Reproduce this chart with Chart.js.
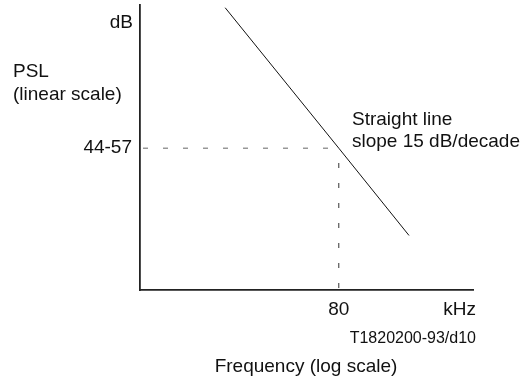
<!DOCTYPE html>
<html>
<head>
<meta charset="utf-8">
<script src="https://cdn.jsdelivr.net/npm/chart.js@4"></script>
<style>
  html, body { margin: 0; padding: 0; background: #fff; }
  #wrap { width: 523px; height: 382px; }
</style>
</head>
<body>
<div id="wrap"><canvas id="pslChart" width="523" height="382"></canvas></div>
<script>
// straight line, 15 dB/decade, through 80 kHz
const lineFreq = [16.4, 80, 213];
const linePsl = [60.3, 50, 43.6];

// dashed guides to the 80 kHz / 44-57 dB point
const hGuideFreq = [5, 80];
const hGuidePsl = [50, 50];
const vGuideFreq = [80, 80];     // drawn from the axis upward
const vGuidePsl = [39.6, 50];

const xTickValues = [80];
const xTickLabels = ["80"];
const yTickValues = [50];
const yTickLabels = ["44-57"];

const xMin = 5, xMax = 520;
const yMin = 39.6, yMax = 60.5;

const FONT = "'Liberation Sans', Arial, Helvetica, sans-serif";

// texts that are not ticks
const textPlugin = {
    id: "texts",
    afterDraw(chart) {
        const ctx = chart.ctx;
        ctx.save();
        ctx.fillStyle = "#111";
        ctx.textBaseline = "alphabetic";
        ctx.font = "19px " + FONT;

        ctx.textAlign = "right";
        ctx.fillText("dB", 133, 28);
        ctx.fillText("kHz", 476, 315);

        ctx.textAlign = "left";
        ctx.fillText("PSL", 13, 77);
        ctx.fillText("(linear scale)", 13, 100);
        ctx.fillText("Straight line", 352, 125);
        ctx.fillText("slope 15 dB/decade", 352, 147);

        ctx.textAlign = "center";
        ctx.fillText("Frequency (log scale)", 306, 372);

        ctx.textAlign = "right";
        ctx.font = "16px " + FONT;
        ctx.fillText("T1820200-93/d10", 476, 343);
        ctx.restore();
    }
};

function toPoints(xs, ys) {
    return xs.map((x, i) => ({ x: x, y: ys[i] }));
}

// no extra room around the axes for half-labels
function noPad(scale) {
    scale.paddingTop = 0;
    scale.paddingBottom = 0;
    scale.paddingLeft = 0;
    scale.paddingRight = 0;
}

const ctx = document.getElementById("pslChart").getContext("2d");
new Chart(ctx, {
    type: "line",
    data: {
        datasets: [{
            label: "PSL",
            data: toPoints(lineFreq, linePsl),
            borderColor: "#111",
            borderWidth: 1,
            pointRadius: 0,
            tension: 0,
            clip: false
        }, {
            label: "h guide",
            data: toPoints(hGuideFreq, hGuidePsl),
            borderColor: "#666",
            borderWidth: 1,
            borderDash: [5, 15],
            borderDashOffset: -3,
            pointRadius: 0,
            tension: 0
        }, {
            label: "v guide",
            data: toPoints(vGuideFreq, vGuidePsl),
            borderColor: "#333",
            borderWidth: 1,
            borderDash: [5, 15],
            borderDashOffset: -2,
            pointRadius: 0,
            tension: 0
        }]
    },
    options: {
        responsive: false,
        animation: false,
        layout: { padding: { top: 5, right: 50, bottom: 0, left: 0 } },
        plugins: {
            legend: { display: false },
            tooltip: { enabled: false }
        },
        scales: {
            x: {
                type: "logarithmic",
                min: xMin,
                max: xMax,
                grid: { display: false, drawTicks: false },
                border: { display: true, color: "#222", width: 1.8 },
                afterBuildTicks: (scale) => {
                    scale.ticks = xTickValues.map(v => ({ value: v }));
                },
                afterFit: (scale) => { scale.height = 92; noPad(scale); },
                ticks: {
                    padding: 8,
                    autoSkip: false,
                    maxRotation: 0,
                    color: "#111",
                    font: { family: FONT, size: 19 },
                    callback: (value) => {
                        const i = xTickValues.indexOf(value);
                        return i >= 0 ? xTickLabels[i] : "";
                    }
                }
            },
            y: {
                type: "linear",
                min: yMin,
                max: yMax,
                grid: { display: false, drawTicks: false },
                border: { display: true, color: "#222", width: 1.8 },
                afterBuildTicks: (scale) => {
                    scale.ticks = yTickValues.map(v => ({ value: v }));
                },
                afterFit: (scale) => { scale.width = 140; noPad(scale); },
                ticks: {
                    padding: 8,
                    autoSkip: false,
                    color: "#111",
                    font: { family: FONT, size: 19 },
                    callback: (value) => {
                        const i = yTickValues.indexOf(value);
                        return i >= 0 ? yTickLabels[i] : "";
                    }
                }
            }
        }
    },
    plugins: [textPlugin]
});
</script>
</body>
</html>
